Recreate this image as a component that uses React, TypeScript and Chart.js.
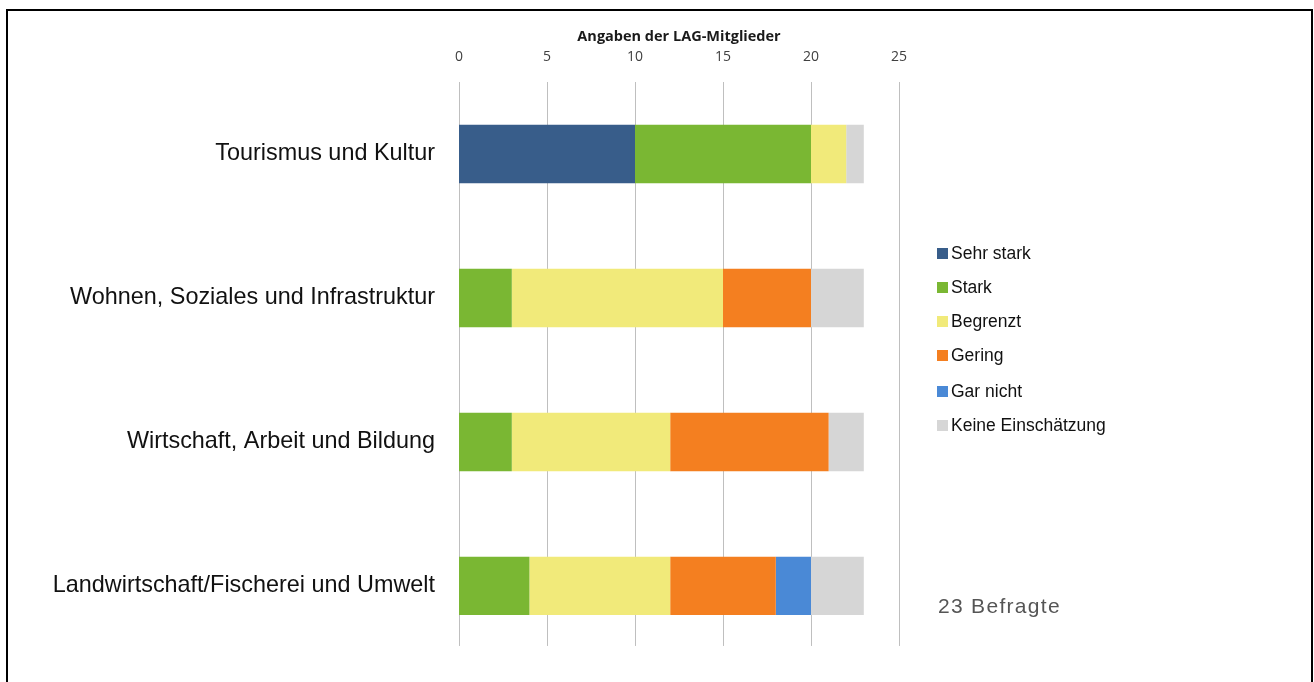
import React, { useEffect, useRef } from "react";
import { Chart, registerables } from "chart.js";

Chart.register(...registerables);

const categories = [
  "Tourismus und Kultur",
  "Wohnen, Soziales und Infrastruktur",
  "Wirtschaft, Arbeit und Bildung",
  "Landwirtschaft/Fischerei und Umwelt",
];
const seriesNames = ["Sehr stark", "Stark", "Begrenzt", "Gering", "Gar nicht", "Keine Einschätzung"];
const sehrStark = [10, 0, 0, 0];
const stark = [10, 3, 3, 4];
const begrenzt = [2, 12, 9, 8];
const gering = [0, 5, 9, 6];
const garNicht = [0, 0, 0, 2];
const keine = [1, 3, 2, 3];
const seriesColors = ["#385D8A", "#7AB733", "#F1EA7A", "#F47F20", "#4A89D6", "#D6D6D6"];
const xTicks = [0, 5, 10, 15, 20, 25];
const axisTitle = "Angaben der LAG-Mitglieder";
const note = "23 Befragte";

export default function App() {
  const ref = useRef<HTMLCanvasElement>(null);
  useEffect(() => {
    const values = [sehrStark, stark, begrenzt, gering, garNicht, keine];
    const gridPlugin = {
      id: "vgrid",
      beforeDatasetsDraw(chart: any) {
        const { ctx, chartArea, scales } = chart;
        ctx.save();
        ctx.strokeStyle = "#BFBFBF";
        ctx.lineWidth = 1;
        xTicks.forEach((t) => {
          const x = Math.round(scales.x.getPixelForValue(t)) + 0.5;
          ctx.beginPath();
          ctx.moveTo(x, chartArea.top);
          ctx.lineTo(x, chartArea.bottom - 12);
          ctx.stroke();
        });
        ctx.restore();
      },
    };
    const chart = new Chart(ref.current!, {
      type: "bar",
      data: {
        labels: categories,
        datasets: seriesNames.map((n, i) => ({
          label: n,
          data: values[i],
          backgroundColor: seriesColors[i],
          borderWidth: 0,
          categoryPercentage: 1,
          barPercentage: 0.405,
        })),
      },
      options: {
        indexAxis: "y",
        animation: false,
        responsive: false,
        maintainAspectRatio: false,
        layout: { padding: { left: 0, top: 0, right: 415, bottom: 0 } },
        plugins: { legend: { display: false }, tooltip: { enabled: false } },
        scales: {
          x: {
            position: "top",
            stacked: true,
            min: 0,
            max: 25,
            afterBuildTicks: (s: any) => {
              s.ticks = xTicks.map((v) => ({ value: v }));
            },
            afterFit: (s: any) => {
              s.height = 82;
            },
            grid: { display: false },
            border: { display: false },
            ticks: {
              padding: 9,
              color: "#404040",
              font: { family: "'Open Sans', 'Liberation Sans', sans-serif", size: 14 },
            },
            title: {
              display: true,
              text: axisTitle,
              color: "#1a1a1a",
              padding: { top: 28, bottom: 0 },
              font: { family: "'Open Sans', 'Liberation Sans', sans-serif", size: 14.5, weight: "bold" },
            },
          },
          y: {
            stacked: true,
            afterFit: (s: any) => {
              s.width = 459;
            },
            grid: { display: false },
            border: { display: false },
            ticks: {
              padding: 16,
              color: "#111",
              font: { family: "'Liberation Sans', Arial, sans-serif", size: 23.4 },
            },
          },
        },
      },
      plugins: [gridPlugin],
    });
    return () => chart.destroy();
  }, []);

  const legendTops = [244, 278, 312, 346, 382, 416];
  return (
    <div style={{ position: "fixed", left: 0, top: 0, width: 1314, height: 682, background: "#fff", overflow: "hidden" }}>
      <div
        style={{
          position: "absolute",
          left: 6,
          top: 9,
          width: 1307,
          height: 720,
          border: "2px solid #000",
          boxSizing: "border-box",
        }}
      />
      <canvas ref={ref} width={1314} height={688} style={{ position: "absolute", left: 0, top: 0 }} />
      {seriesNames.map((n, i) => (
        <div
          key={n}
          style={{
            position: "absolute",
            left: 937,
            top: legendTops[i],
            height: 18,
            display: "flex",
            alignItems: "center",
            fontFamily: "'Liberation Sans', Arial, sans-serif",
            fontSize: 17.5,
            color: "#111",
            whiteSpace: "nowrap",
          }}
        >
          <span style={{ display: "inline-block", width: 11, height: 11, background: seriesColors[i], marginRight: 3 }} />
          {n}
        </div>
      ))}
      <div
        style={{
          position: "absolute",
          left: 938,
          top: 594,
          fontFamily: "'Liberation Sans', Arial, sans-serif",
          fontSize: 21,
          letterSpacing: 1.3,
          color: "#555",
          whiteSpace: "nowrap",
        }}
      >
        {note}
      </div>
    </div>
  );
}
